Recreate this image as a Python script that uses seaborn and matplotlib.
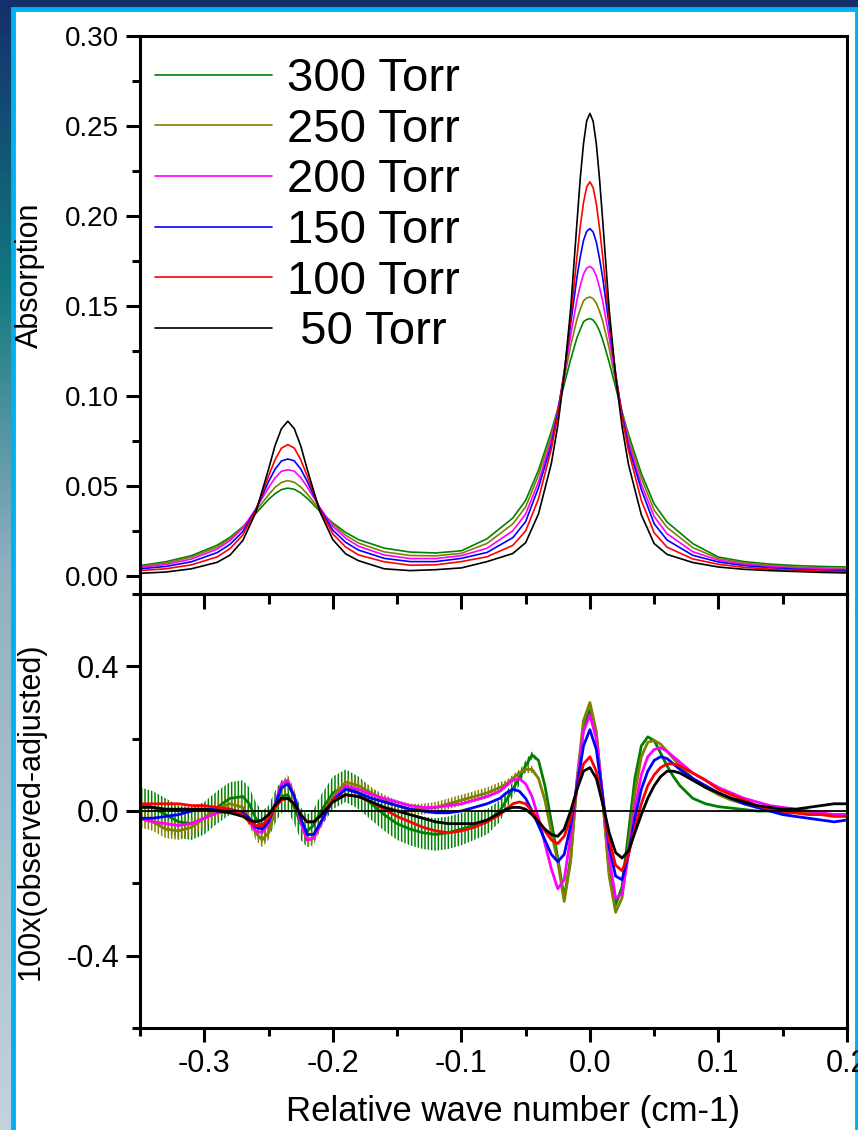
import numpy as np
import pandas as pd
import seaborn as sns
import matplotlib.pyplot as plt
from matplotlib.colors import LinearSegmentedColormap
from matplotlib.patches import Rectangle
from matplotlib.ticker import MultipleLocator, AutoMinorLocator, FuncFormatter

# legend order = drawing order (300 Torr first, 50 Torr on top)
LABELS = ["300 Torr", "250 Torr", "200 Torr", "150 Torr", "100 Torr", " 50 Torr"]
COLORS = ["#008000", "#808000", "#ff00ff", "#0000ff", "#ff0000", "#000000"]

# upper panel: absorption spectra
X_TOP = [-0.35, -0.33, -0.31, -0.29, -0.28, -0.27, -0.26, -0.25, -0.245, -0.24,
         -0.235, -0.23, -0.225, -0.22, -0.21, -0.20, -0.19, -0.18, -0.16, -0.14,
         -0.12, -0.10, -0.08, -0.06, -0.05, -0.04, -0.03, -0.025, -0.02, -0.015,
         -0.01, -0.0075, -0.005, -0.0025, 0.0, 0.0025, 0.005, 0.0075, 0.01, 0.015,
         0.02, 0.025, 0.03, 0.04, 0.05, 0.06, 0.08, 0.10, 0.12, 0.14,
         0.16, 0.18, 0.20]

ABS_300 = [0.0058, 0.0079, 0.0113, 0.0171, 0.0215, 0.0274, 0.0347, 0.0425, 0.0457, 0.0480,
           0.0488, 0.0482, 0.0462, 0.0432, 0.0360, 0.0295, 0.0242, 0.0202, 0.0155, 0.0133,
           0.0128, 0.0140, 0.0207, 0.0322, 0.0420, 0.0588, 0.0804, 0.0928, 0.1064, 0.1202,
           0.1325, 0.1370, 0.1412, 0.1425, 0.1430, 0.1422, 0.1398, 0.1361, 0.1311, 0.1187,
           0.1049, 0.0912, 0.0787, 0.0570, 0.0400, 0.0300, 0.0180, 0.0105, 0.0080, 0.0066,
           0.0058, 0.0053, 0.0050]
ABS_250 = [0.0053, 0.0072, 0.0105, 0.0160, 0.0207, 0.0270, 0.0360, 0.0451, 0.0492, 0.0520,
           0.0530, 0.0521, 0.0495, 0.0456, 0.0367, 0.0288, 0.0226, 0.0183, 0.0134, 0.0114,
           0.0112, 0.0126, 0.0181, 0.0289, 0.0383, 0.0561, 0.0780, 0.0925, 0.1094, 0.1279,
           0.1428, 0.1482, 0.1528, 0.1545, 0.1550, 0.1541, 0.1515, 0.1471, 0.1415, 0.1265,
           0.1080, 0.0910, 0.0765, 0.0545, 0.0365, 0.0270, 0.0158, 0.0097, 0.0073, 0.0059,
           0.0050, 0.0045, 0.0043]
ABS_200 = [0.0048, 0.0064, 0.0094, 0.0149, 0.0197, 0.0266, 0.0372, 0.0491, 0.0544, 0.0582,
           0.0590, 0.0583, 0.0547, 0.0496, 0.0379, 0.0276, 0.0210, 0.0165, 0.0117, 0.0097,
           0.0097, 0.0113, 0.0154, 0.0251, 0.0344, 0.0523, 0.0757, 0.0917, 0.1116, 0.1336,
           0.1536, 0.1614, 0.1677, 0.1710, 0.1720, 0.1706, 0.1667, 0.1603, 0.1525, 0.1325,
           0.1105, 0.0905, 0.0745, 0.0510, 0.0330, 0.0235, 0.0135, 0.0088, 0.0066, 0.0053,
           0.0045, 0.0040, 0.0036]
ABS_150 = [0.0040, 0.0053, 0.0079, 0.0130, 0.0176, 0.0247, 0.0368, 0.0524, 0.0592, 0.0639,
           0.0650, 0.0640, 0.0595, 0.0527, 0.0374, 0.0255, 0.0187, 0.0144, 0.0098, 0.0080,
           0.0080, 0.0098, 0.0131, 0.0213, 0.0302, 0.0491, 0.0730, 0.0905, 0.1135, 0.1399,
           0.1664, 0.1773, 0.1864, 0.1915, 0.1930, 0.1911, 0.1855, 0.1763, 0.1655, 0.1390,
           0.1125, 0.0895, 0.0720, 0.0480, 0.0290, 0.0200, 0.0115, 0.0078, 0.0058, 0.0046,
           0.0038, 0.0033, 0.0030]
ABS_100 = [0.0030, 0.0040, 0.0062, 0.0106, 0.0152, 0.0228, 0.0364, 0.0555, 0.0645, 0.0710,
           0.0730, 0.0711, 0.0647, 0.0557, 0.0368, 0.0234, 0.0161, 0.0117, 0.0079, 0.0060,
           0.0062, 0.0080, 0.0107, 0.0170, 0.0250, 0.0429, 0.0706, 0.0888, 0.1130, 0.1434,
           0.1778, 0.1942, 0.2074, 0.2162, 0.2190, 0.2158, 0.2067, 0.1932, 0.1770, 0.1426,
           0.1122, 0.0880, 0.0697, 0.0420, 0.0240, 0.0160, 0.0095, 0.0065, 0.0048, 0.0038,
           0.0032, 0.0027, 0.0024]
ABS_050 = [0.0015, 0.0022, 0.0040, 0.0076, 0.0116, 0.0197, 0.0352, 0.0593, 0.0723, 0.0818,
           0.0860, 0.0819, 0.0724, 0.0595, 0.0356, 0.0202, 0.0123, 0.0085, 0.0040, 0.0030,
           0.0035, 0.0045, 0.0080, 0.0125, 0.0185, 0.0345, 0.0625, 0.0835, 0.1113, 0.1482,
           0.1970, 0.2210, 0.2400, 0.2529, 0.2570, 0.2527, 0.2400, 0.2205, 0.1970, 0.1480,
           0.1110, 0.0830, 0.0620, 0.0340, 0.0180, 0.0120, 0.0075, 0.0050, 0.0037, 0.0030,
           0.0025, 0.0020, 0.0017]

# lower panel: residuals x100
X_RES = [-0.35, -0.34, -0.33, -0.32, -0.31, -0.30, -0.29, -0.28, -0.27,
         -0.265, -0.26, -0.255, -0.25, -0.245, -0.24, -0.235, -0.23, -0.225, -0.22, -0.215,
         -0.21, -0.20, -0.19, -0.18, -0.17, -0.16, -0.15, -0.14, -0.13, -0.12, -0.11, -0.10,
         -0.09, -0.08, -0.07,
         -0.065, -0.06, -0.055, -0.05, -0.045, -0.04, -0.035, -0.03, -0.025, -0.02, -0.015,
         -0.01, -0.005,
         0.0, 0.005, 0.01, 0.015, 0.02, 0.025, 0.03, 0.035, 0.04, 0.045, 0.05, 0.055, 0.06,
         0.065, 0.07,
         0.08, 0.09, 0.10, 0.11, 0.12, 0.13, 0.14, 0.15, 0.16, 0.17, 0.18, 0.19, 0.20]

RES_300 = [0.02, 0.01, -0.01, -0.03, -0.035, -0.02, 0.01, 0.035, 0.04,
           0.02, -0.02, -0.045, -0.03, 0.01, 0.04, 0.045, 0.01, -0.035, -0.055, -0.04,
           -0.005, 0.05, 0.07, 0.05, 0.02, -0.01, -0.035, -0.05, -0.06, -0.065, -0.06, -0.05,
           -0.04, -0.03, 0.0,
           0.03, 0.06, 0.09, 0.125, 0.155, 0.14, 0.07, -0.03, -0.13, -0.24, -0.13,
           0.08, 0.23,
           0.28, 0.21, 0.03, -0.17, -0.26, -0.21, -0.06, 0.09, 0.18, 0.205, 0.195, 0.16, 0.125,
           0.095, 0.07,
           0.035, 0.02, 0.012, 0.008, 0.004, 0.0, 0.0, -0.005, -0.005, -0.005, -0.01, -0.01, -0.01]
RES_250 = [-0.02, -0.03, -0.05, -0.055, -0.045, -0.02, 0.005, 0.02, 0.01,
           -0.02, -0.06, -0.08, -0.06, 0.0, 0.06, 0.08, 0.04, -0.03, -0.08, -0.075,
           -0.04, 0.04, 0.08, 0.07, 0.05, 0.03, 0.015, 0.005, 0.005, 0.01, 0.02, 0.03,
           0.04, 0.05, 0.065,
           0.075, 0.09, 0.105, 0.115, 0.115, 0.09, 0.03, -0.06, -0.14, -0.25, -0.14,
           0.09, 0.25,
           0.30, 0.22, 0.03, -0.18, -0.28, -0.24, -0.10, 0.05, 0.15, 0.19, 0.195, 0.185, 0.165,
           0.145, 0.125,
           0.09, 0.065, 0.045, 0.03, 0.02, 0.01, 0.005, 0.0, -0.005, -0.005, -0.01, -0.01, -0.01]
RES_200 = [-0.02, -0.03, -0.035, -0.04, -0.035, -0.02, -0.005, 0.0, -0.01,
           -0.03, -0.055, -0.06, -0.035, 0.02, 0.075, 0.085, 0.04, -0.03, -0.08, -0.075,
           -0.04, 0.03, 0.07, 0.06, 0.045, 0.035, 0.025, 0.015, 0.01, 0.01, 0.015, 0.02,
           0.03, 0.04, 0.055,
           0.07, 0.085, 0.09, 0.075, 0.04, -0.02, -0.09, -0.16, -0.215, -0.19, -0.07,
           0.08, 0.22,
           0.265, 0.2, 0.04, -0.13, -0.24, -0.23, -0.12, 0.01, 0.1, 0.15, 0.17, 0.175, 0.165,
           0.15, 0.135,
           0.105, 0.085, 0.065, 0.05, 0.035, 0.025, 0.015, 0.01, 0.005, 0.0, -0.005, -0.01, -0.01]
RES_150 = [-0.02, -0.02, -0.015, -0.01, 0.0, 0.005, 0.005, 0.005, -0.005,
           -0.02, -0.045, -0.05, -0.03, 0.015, 0.065, 0.075, 0.04, -0.02, -0.065, -0.065,
           -0.035, 0.03, 0.06, 0.05, 0.035, 0.025, 0.015, 0.005, 0.0, -0.005, -0.005, 0.0,
           0.01, 0.02, 0.035,
           0.05, 0.06, 0.055, 0.035, 0.0, -0.04, -0.08, -0.12, -0.14, -0.12, -0.04,
           0.07, 0.18,
           0.225, 0.17, 0.04, -0.1, -0.18, -0.19, -0.12, -0.02, 0.06, 0.11, 0.14, 0.15, 0.145,
           0.13, 0.115,
           0.09, 0.07, 0.05, 0.035, 0.02, 0.01, 0.0, -0.01, -0.015, -0.02, -0.025, -0.03, -0.025]
RES_100 = [0.02, 0.02, 0.02, 0.02, 0.015, 0.015, 0.01, 0.005, -0.01,
           -0.03, -0.04, -0.04, -0.02, 0.01, 0.03, 0.035, 0.02, -0.01, -0.03, -0.03,
           -0.015, 0.03, 0.045, 0.04, 0.025, 0.005, -0.015, -0.03, -0.045, -0.055, -0.06, -0.055,
           -0.045, -0.03, -0.01,
           0.005, 0.02, 0.025, 0.02, 0.0, -0.025, -0.055, -0.08, -0.09, -0.07, -0.02,
           0.06, 0.13,
           0.15, 0.11, 0.02, -0.08, -0.15, -0.165, -0.12, -0.05, 0.02, 0.07, 0.1, 0.12, 0.13,
           0.13, 0.125,
           0.105, 0.085, 0.06, 0.045, 0.03, 0.015, 0.005, 0.0, -0.005, -0.01, -0.01, -0.015, -0.015]
RES_050 = [0.01, 0.01, 0.005, 0.005, 0.005, 0.005, 0.0, -0.005, -0.015,
           -0.025, -0.03, -0.025, -0.01, 0.015, 0.035, 0.035, 0.02, -0.01, -0.03, -0.03,
           -0.015, 0.025, 0.045, 0.04, 0.025, 0.01, 0.0, -0.01, -0.02, -0.03, -0.035, -0.035,
           -0.035, -0.025, -0.005,
           0.005, 0.01, 0.01, 0.005, -0.01, -0.03, -0.05, -0.065, -0.07, -0.05, 0.0,
           0.06, 0.11,
           0.12, 0.09, 0.02, -0.06, -0.115, -0.13, -0.11, -0.06, -0.01, 0.035, 0.07, 0.095, 0.11,
           0.11, 0.105,
           0.085, 0.065, 0.05, 0.035, 0.025, 0.015, 0.01, 0.005, 0.005, 0.01, 0.015, 0.02, 0.02]

# half-height of the fast ripple riding on the 300 and 250 Torr residuals
RIPPLE_300 = [0.045] * 9 + [0.045] * 11 + [0.045] * 12 + [0.04, 0.035, 0.03] \
    + [0.025, 0.02, 0.02, 0.015, 0.01] + [0.0] * 8 + [0.0] * 15 + [0.0] * 13
RIPPLE_250 = [0.025] * 9 + [0.02] * 11 + [0.015] * 15 + [0.01] * 5 + [0.0] * 8 \
    + [0.0] * 15 + [0.0] * 13

top_series = [ABS_300, ABS_250, ABS_200, ABS_150, ABS_100, ABS_050]
res_series = [RES_300, RES_250, RES_200, RES_150, RES_100, RES_050]

df_top = pd.DataFrame({
    "x": np.tile(X_TOP, len(LABELS)),
    "absorption": np.concatenate(top_series),
    "pressure": np.repeat(LABELS, len(X_TOP)),
})
df_res = pd.DataFrame({
    "x": np.tile(X_RES, len(LABELS)),
    "residual": np.concatenate(res_series),
    "pressure": np.repeat(LABELS, len(X_RES)),
})
palette = dict(zip(LABELS, COLORS))

sns.set_theme(style="ticks")
plt.rcParams["font.family"] = ["Liberation Sans", "DejaVu Sans"]
plt.rcParams["axes.unicode_minus"] = False
plt.rcParams["hatch.linewidth"] = 1.1
for key in ["text.color", "axes.labelcolor", "xtick.color", "ytick.color", "axes.edgecolor"]:
    plt.rcParams[key] = "black"

W, H = 858, 1130
fig = plt.figure(figsize=(W / 100, H / 100), dpi=100)

# slide background behind the white card
bg = fig.add_axes([0, 0, 1, 1], zorder=-10)
bg_cmap = LinearSegmentedColormap.from_list(
    "slide", [(0, "#14306b"), (0.25, "#10787f"), (0.5, "#8fb0c0"), (1, "#c4d2dd")])
bg.imshow(np.linspace(0, 1, 256).reshape(-1, 1), aspect="auto", cmap=bg_cmap,
          extent=[0, 1, 0, 1])
bg.axis("off")
card = Rectangle((12.5 / W, -0.02), (856.5 - 12.5) / W, (H - 9) / H + 0.02,
                 transform=fig.transFigure, facecolor="white", edgecolor="#00b0f0",
                 linewidth=3.5, zorder=-5)
fig.add_artist(card)

ax_top = fig.add_axes([140 / W, 1 - 594 / H, 707 / W, 558 / H])
ax_bot = fig.add_axes([140 / W, 1 - 1028 / H, 707 / W, 434 / H])

sns.lineplot(data=df_top, x="x", y="absorption", hue="pressure", hue_order=LABELS,
             palette=palette, linewidth=1.2, errorbar=None, ax=ax_top)

for yv, amp, col in [(RES_300, RIPPLE_300, COLORS[0]), (RES_250, RIPPLE_250, COLORS[1])]:
    yv, amp = np.array(yv), np.array(amp)
    ax_bot.fill_between(X_RES, yv - amp, yv + amp, facecolor="none", edgecolor=col,
                        linewidth=0, hatch="|||||", zorder=1.5)
sns.lineplot(data=df_res, x="x", y="residual", hue="pressure", hue_order=LABELS,
             palette=palette, linewidth=2.0, errorbar=None, legend=False, ax=ax_bot)
ax_bot.axhline(0, color="black", linewidth=1.3, zorder=5)

fmt1 = FuncFormatter(lambda v, p: f"{0.0 if abs(v) < 1e-9 else v:.1f}")
fmt2 = FuncFormatter(lambda v, p: f"{0.0 if abs(v) < 1e-9 else v:.2f}")

for ax in (ax_top, ax_bot):
    ax.set_xlim(-0.35, 0.2)
    for s in ax.spines.values():
        s.set_linewidth(2.2)
        s.set_color("black")
    ax.tick_params(axis="y", which="major", direction="out", length=10, width=2.2, pad=5)
    ax.tick_params(axis="y", which="minor", direction="out", length=6, width=2.2)
    ax.tick_params(right=False, top=False)

ax_top.set_ylim(-0.01, 0.30)
ax_top.yaxis.set_major_locator(MultipleLocator(0.05))
ax_top.yaxis.set_minor_locator(AutoMinorLocator(2))
ax_top.yaxis.set_major_formatter(fmt2)
ax_top.tick_params(axis="y", labelsize=20)
ax_top.tick_params(axis="x", which="both", bottom=False, labelbottom=False)
ax_top.set_xlabel("")
ax_top.set_ylabel("Absorption", fontsize=22)
ax_top.yaxis.set_label_coords(-0.134, 0.572)

ax_bot.set_ylim(-0.6, 0.6)
ax_bot.yaxis.set_major_locator(MultipleLocator(0.4))
ax_bot.yaxis.set_minor_locator(AutoMinorLocator(2))
ax_bot.yaxis.set_major_formatter(fmt1)
ax_bot.xaxis.set_major_locator(MultipleLocator(0.1))
ax_bot.xaxis.set_minor_locator(AutoMinorLocator(2))
ax_bot.xaxis.set_major_formatter(fmt1)
ax_bot.tick_params(axis="x", which="major", direction="out", length=10, width=2.2, pad=5)
ax_bot.tick_params(axis="x", which="minor", direction="out", length=6, width=2.2)
ax_bot.tick_params(labelsize=22)
ax_bot.set_ylabel("100x(observed-adjusted)", fontsize=22)
ax_bot.yaxis.set_label_coords(-0.133, 0.5)
ax_bot.set_xlabel("Relative wave number (cm-1)", fontsize=25)
ax_bot.xaxis.set_label_coords(0.528, -0.155)

sec = ax_bot.secondary_xaxis("top")
sec.xaxis.set_major_locator(MultipleLocator(0.1))
sec.xaxis.set_minor_locator(AutoMinorLocator(2))
sec.tick_params(which="major", direction="in", length=11, width=2.2, labeltop=False)
sec.tick_params(which="minor", direction="in", length=7, width=2.2)
sec.spines["top"].set_linewidth(2.2)

handles, labels = ax_top.get_legend_handles_labels()
ax_top.legend(handles, labels, loc="upper left", bbox_to_anchor=(-0.009, 1.0),
              frameon=False, fontsize=34, handlelength=2.48, handletextpad=0.32,
              labelspacing=0.14, borderaxespad=0.0, borderpad=0.45)

fig.savefig("out.png", dpi=100)
